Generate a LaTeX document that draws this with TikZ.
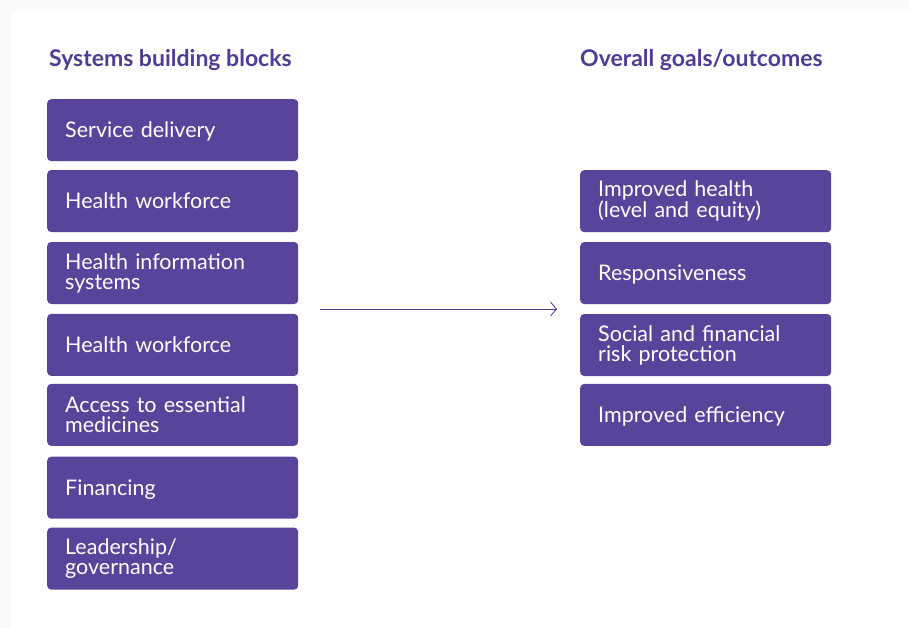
\documentclass[tikz,border=0pt]{standalone}
\usepackage{fontspec}
\setmainfont{Lato}
\usepackage{tikz}
\usetikzlibrary{positioning, arrows.meta}

\definecolor{blockpurple}{HTML}{58449A}
\definecolor{headpurple}{HTML}{4F3C95}

\begin{document}
\begin{tikzpicture}[
            x=1pt, y=-1pt,
            block/.style={fill=blockpurple, rounded corners=4pt, minimum width=251pt, minimum height=62pt, text width=215pt, inner xsep=18pt, inner ysep=0pt, align=left, text=white, font=\fontsize{21.5}{20}\selectfont},
            oneline/.style={block, text height=15.5pt, text depth=0pt},
            header/.style={anchor=base west, text=headpurple, inner sep=0pt, font=\bfseries\fontsize{23}{24}\selectfont},
            link/.style={headpurple, line width=0.8pt, -{Straight Barb[length=6pt, width=14pt, line width=0.8pt]}},
            node distance=9pt
        ]

        % Rahmen
        \useasboundingbox (0,0) rectangle (909,628);
        \fill[black!2] (0,0) rectangle (909,628);
        \fill[white] (11,11) rectangle (909,628);

        % Ueberschriften
        \node[header] (headl) at (49,67) {Systems building blocks};
        \node[header] (headr) at (580,67) {Overall goals/outcomes};

        % Bausteine
        \node[oneline, anchor=north west] (b1) at (47,99) {Service delivery};
        \node[oneline, below=8.5pt of b1] (b2) {Health workforce};
        \node[block, below=9.5pt of b2] (b3) {Health information\\systems};
        \node[oneline, below=9.5pt of b3] (b4) {Health workforce};
        \node[block, below=7.5pt of b4] (b5) {Access to essential\\medicines};
        \node[oneline, below=10.5pt of b5] (b6) {Financing};
        \node[block, below=8.5pt of b6] (b7) {Leadership/\\governance};

        % Ziele
        \node[block, anchor=north west] (g1) at (580,170) {Improved health\\(level and equity)};
        \node[oneline, below=9.5pt of g1] (g2) {Responsiveness};
        \node[block, below=9.5pt of g2] (g3) {Social and financial\\risk protection};
        \node[oneline, below=7.5pt of g3] (g4) {Improved efficiency};

        % Pfeil
        \coordinate (from) at (320,309);
        \coordinate (to) at (557,309);
        \draw[link] (from) -- (to);

    \end{tikzpicture}
\end{document}
